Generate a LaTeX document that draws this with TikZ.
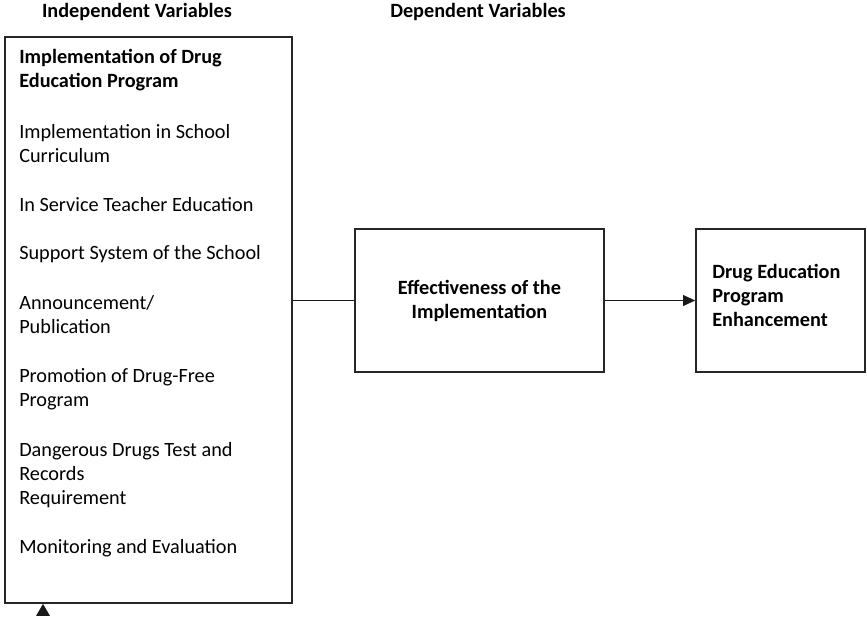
\documentclass[tikz,border=0pt]{standalone}
\usepackage{fontspec}
\setmainfont{Carlito}
\usetikzlibrary{arrows.meta}

\newcommand{\itemfont}{\fontsize{15.2}{18}\selectfont}

\tikzset{
	varbox/.style={draw=black!85, line width=1.2pt, rectangle, inner sep=0pt},
	item/.style={anchor=west, align=left, inner sep=0pt, font=\itemfont},
	head/.style={inner sep=0pt, font=\itemfont\bfseries},
	link/.style={line width=1.2pt, black!90},
}

\begin{document}
\begin{tikzpicture}[x=0.75pt, y=-0.75pt]
	\useasboundingbox (0,0) rectangle (867,618);

	%% Headings
	\node[head] (hindep) at (137,12) {Independent Variables};
	\node[head] (hdep) at (478,12) {Dependent Variables};

	%% Boxes
	\node[varbox, minimum width={287*0.75pt}, minimum height={566*0.75pt}] (indep) at (148.5,320) {};
	\node[varbox, minimum width={249*0.75pt}, minimum height={143*0.75pt}, align=center, font=\itemfont\bfseries]
		(effect) at (479.5,300.5) {Effectiveness of the\\Implementation};
	\node[varbox, minimum width={169*0.75pt}, minimum height={143*0.75pt}] (enhance) at (780.5,300.5) {};
	\node[item, font=\itemfont\bfseries] (enhtext) at (712,295) {Drug Education\\Program\\Enhancement};

	%% Items of the left box
	\node[item, font=\itemfont\bfseries] (title) at (19,70) {Implementation of Drug\\Education Program};
	\node[item] (curric) at (19,144) {Implementation in School\\Curriculum};
	\node[item] (teacher) at (19,205) {In Service Teacher Education};
	\node[item] (support) at (19,254) {Support System of the School};
	\node[item] (announce) at (19,315) {Announcement/\\Publication};
	\node[item] (promo) at (19,389) {Promotion of Drug-Free\\Program};
	\node[item] (test) at (19,475) {Dangerous Drugs Test and\\Records\\Requirement};
	\node[item] (monitor) at (19,548) {Monitoring and Evaluation};

	%% Connectors
	\draw[link] (indep.east |- effect.west) -- (effect.west);
	\draw[link, -{Triangle[length=9pt, width=8pt]}] (effect.east) -- (enhance.west);
	\coordinate (stub) at (43,615);
	\draw[link, -{Triangle[length=9pt, width=10pt]}] (stub) -- (stub |- indep.south);

\end{tikzpicture}
\end{document}
